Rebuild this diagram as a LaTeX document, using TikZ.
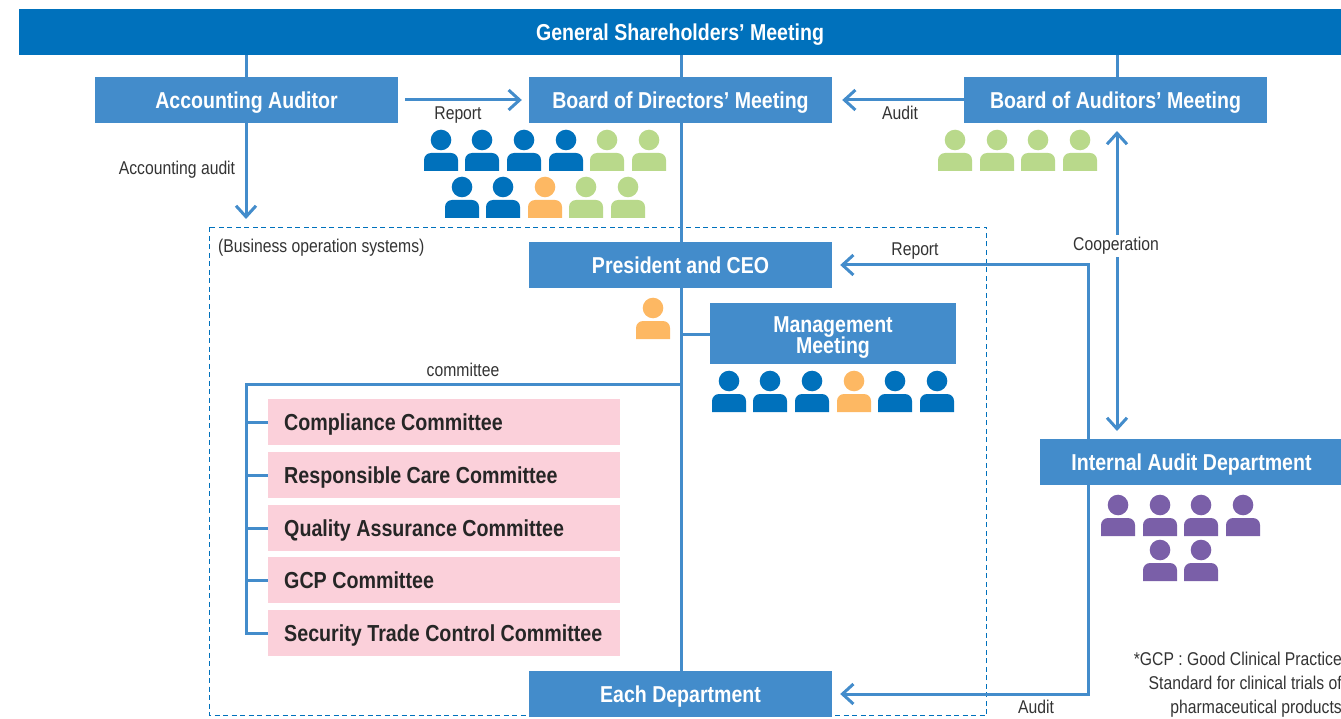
\documentclass[tikz,border=0pt]{standalone}
\usepackage{fontspec}
\setmainfont[FakeStretch=0.85]{Liberation Sans}
\usepackage{tikz}
\usetikzlibrary{arrows.meta}
\definecolor{barblue}{HTML}{0071BC}
\definecolor{boxblue}{HTML}{438CCB}
\definecolor{boxpink}{HTML}{FBD0DA}
\definecolor{mangreen}{HTML}{B9D98B}
\definecolor{manorange}{HTML}{FDB863}
\definecolor{manpurple}{HTML}{7A5FA8}
\tikzstyle{bar}=[fill=barblue, text=white, font=\fontsize{23}{24}\selectfont\bfseries, inner sep=0pt, text height=17pt, text depth=0pt, text centered]
\tikzstyle{office}=[fill=boxblue, text=white, font=\fontsize{23}{21}\selectfont\bfseries, inner sep=0pt, text height=17pt, text depth=0pt, text centered]
\tikzstyle{officetwo}=[fill=boxblue, text=white, font=\fontsize{23}{21}\selectfont\bfseries, inner sep=0pt, align=center]
\tikzstyle{committee}=[fill=boxpink, text=black!85, font=\fontsize{23.15}{24}\selectfont\bfseries, inner xsep=16pt, inner ysep=0pt, text height=31pt, text depth=15pt, text width=320pt, align=flush left, anchor=north west]
\tikzstyle{small}=[text=black!80, font=\fontsize{18.5}{24}\selectfont, inner sep=0pt]
\tikzstyle{link}=[draw=boxblue, line width=3pt]
\tikzstyle{tipped}=[link, >={Straight Barb[length=11pt,width=20pt,line width=3pt]}]
\tikzset{man/.pic={
\path[pic actions] (0,0) circle (10.3);
\path[pic actions] (-17,31) [rounded corners=7pt] -- (-17,13) -- (17,13) [sharp corners] -- (17,31) -- cycle;
}}
\begin{document}
\begin{tikzpicture}[x=1pt,y=-1pt]
\useasboundingbox (0,0) rectangle (1341,719);
\draw[barblue, line width=1.7pt, dash pattern=on 5pt off 3.5pt] (209.5,227.5) rectangle (986.5,715.5);
% connectors first, the boxes go over them
\coordinate (reportstart) at (405,100);
\coordinate (auditend) at (246,219);
\coordinate (spinetop) at (681,55);
\coordinate (spinefoot) at (681,671);
\coordinate (spineceo) at (681,334);
\coordinate (spinecom) at (681,384);
\coordinate (comleft) at (246,384);
\coordinate (comfoot) at (246,633);
\coordinate (comone) at (246,422);
\coordinate (comtwo) at (246,475);
\coordinate (comthree) at (246,528);
\coordinate (comfour) at (246,580);
\coordinate (riser) at (1088,439);
\coordinate (riserfoot) at (1088,485);
\coordinate (coopup) at (1117,131);
\coordinate (coopdown) at (1117,431);
\coordinate (auditorstop) at (1117,55);
% boxes
\draw[link] (spinetop) -- (spinefoot);
\node[bar, minimum width=1322pt, minimum height=46pt] (meeting) at (680,32) {General Shareholders’ Meeting};
\node[office, minimum width=303pt, minimum height=46pt] (auditor) at (246.5,100) {Accounting Auditor};
\node[office, minimum width=303pt, minimum height=46pt] (board) at (680.5,100) {Board of Directors’ Meeting};
\node[office, minimum width=303pt, minimum height=46pt] (auditors) at (1115.5,100) {Board of Auditors’ Meeting};
\node[office, minimum width=303pt, minimum height=46pt] (ceo) at (680.5,265) {President and CEO};
\node[officetwo, minimum width=246pt, minimum height=61pt] (management) at (833,333.5) {\rule{0pt}{24pt}Management\\[-2pt]Meeting};
\node[office, minimum width=303pt, minimum height=46pt] (internal) at (1191.5,462) {Internal Audit Department};
\node[office, minimum width=303pt, minimum height=46pt] (each) at (680.5,694) {Each Department};
\node[committee] (compliance) at (268,399) {Compliance Committee};
\node[committee] (care) at (268,452) {Responsible Care Committee};
\node[committee] (quality) at (268,505) {Quality Assurance Committee};
\node[committee] (gcp) at (268,557) {GCP Committee};
\node[committee] (trade) at (268,610) {Security Trade Control Committee};
% connectors
\draw[link] (meeting.south -| auditor) -- (auditor.north);
\draw[link] (auditorstop) -- (auditors.north -| auditorstop);
\draw[link] (spineceo) -- (management.west |- spineceo);
\draw[link] (spinecom) -- (comleft) -- (comfoot) -- (trade.west |- comfoot);
\draw[link] (comone) -- (compliance.west |- comone);
\draw[link] (comtwo) -- (care.west |- comtwo);
\draw[link] (comthree) -- (quality.west |- comthree);
\draw[link] (comfour) -- (gcp.west |- comfour);
\draw[tipped, ->] (auditor.south -| auditend) -- (auditend);
\draw[tipped, ->] (reportstart) -- ([xshift=-7pt]board.west);
\draw[tipped, ->] (auditors.west) -- ([xshift=10pt]board.east);
\draw[tipped, <->] (coopup) -- (coopdown);
\draw[tipped, ->] (riser) -- (riser |- ceo) -- ([xshift=8pt]ceo.east);
\draw[tipped, ->] (riserfoot) -- (riserfoot |- each) -- ([xshift=8pt]each.east);
% labels
\node[small] (lreport) at (458,115) {Report};
\node[small] (laudit) at (900,113) {Audit};
\node[small] (laccount) at (177,170) {Accounting audit};
\node[small, anchor=west] (lsystems) at (218,248) {(Business operation systems)};
\node[small] (lreportb) at (915,251) {Report};
\node[small, fill=white, inner xsep=3pt, inner ysep=2pt] (lcoop) at (1116,246) {Cooperation};
\node[small] (lcommittee) at (463,370) {committee};
\node[small] (lauditb) at (1036,707) {Audit};
\node[small, align=right, anchor=north east] (lnote) at (1342,652) {\rule{0pt}{12pt}*GCP : Good Clinical Practice\\Standard for clinical trials of\\pharmaceutical products};
% people
\foreach \px in {441,482,524,566} \pic[fill=barblue] at (\px,140) {man};
\foreach \px in {607,649} \pic[fill=mangreen] at (\px,140) {man};
\foreach \px in {462,503} \pic[fill=barblue] at (\px,187) {man};
\pic[fill=manorange] at (545,187) {man};
\foreach \px in {586,628} \pic[fill=mangreen] at (\px,187) {man};
\foreach \px in {955,997,1038,1080} \pic[fill=mangreen] at (\px,140) {man};
\pic[fill=manorange] at (653,308) {man};
\foreach \px in {729,770,812,895,937} \pic[fill=barblue] at (\px,381) {man};
\pic[fill=manorange] at (854,381) {man};
\foreach \px in {1118,1160,1201,1243} \pic[fill=manpurple] at (\px,505) {man};
\foreach \px in {1160,1201} \pic[fill=manpurple] at (\px,550) {man};
\end{tikzpicture}
\end{document}
